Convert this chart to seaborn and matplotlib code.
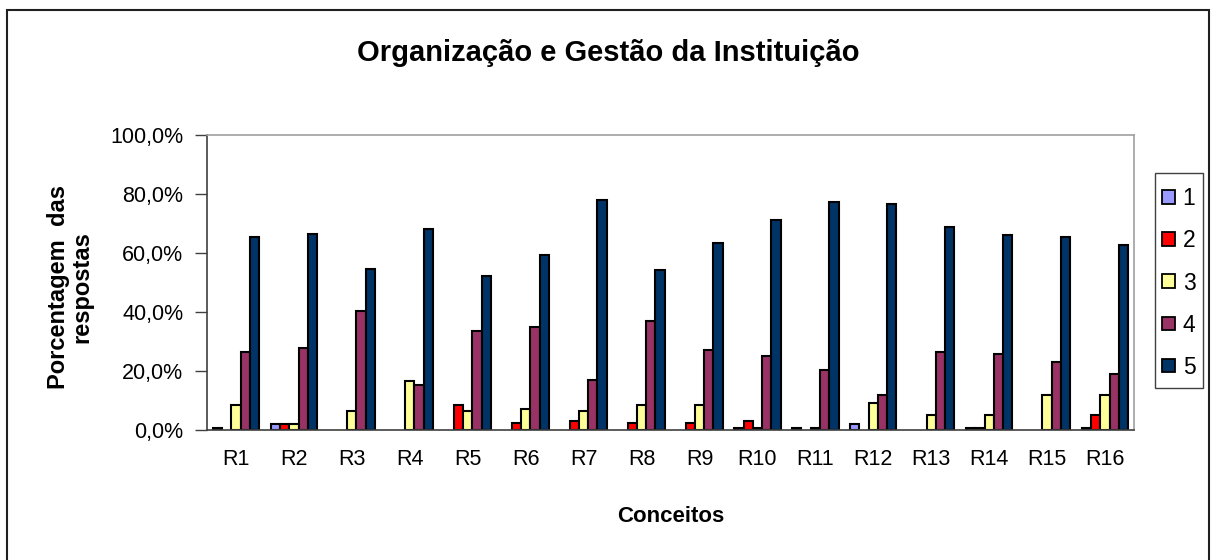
import matplotlib
matplotlib.use("Agg")
import matplotlib.pyplot as plt
import matplotlib.ticker as mticker
from matplotlib.patches import Rectangle, Patch
import numpy as np
import pandas as pd
import seaborn as sns

categories = ["R1", "R2", "R3", "R4", "R5", "R6", "R7", "R8",
              "R9", "R10", "R11", "R12", "R13", "R14", "R15", "R16"]
series_names = ["1", "2", "3", "4", "5"]
s1 = [0.7, 2.0, 0, 0, 0, 0, 0, 0, 0, 0.7, 0.7, 2.1, 0, 0.7, 0, 0.7]
s2 = [0, 2.0, 0, 0, 8.5, 2.3, 2.9, 2.3, 2.3, 2.9, 0, 0, 0, 0.7, 0, 5.0]
s3 = [8.5, 2.0, 6.4, 16.7, 6.4, 7.1, 6.4, 8.5, 8.4, 0.7, 0.7, 9.3, 5.0, 5.0, 12.0, 12.0]
s4 = [26.5, 27.9, 40.4, 15.4, 33.6, 35.0, 16.8, 36.9, 27.2, 25.2, 20.2, 12.0, 26.5, 25.9, 23.1, 19.0]
s5 = [65.5, 66.3, 54.5, 68.2, 52.2, 59.2, 78.0, 54.3, 63.5, 71.1, 77.3, 76.6, 68.9, 66.2, 65.4, 62.6]
colors = ["#9999FF", "#FF0000", "#FFFF99", "#993366", "#003366"]

rows = []
for name, vals in zip(series_names, [s1, s2, s3, s4, s5]):
    for c, v in zip(categories, vals):
        rows.append({"Conceito": c, "Serie": name, "Valor": v})
df = pd.DataFrame(rows)

sns.set_theme(style="white")
plt.rcParams["font.family"] = ["Liberation Sans", "DejaVu Sans"]
for k in ["text.color", "axes.labelcolor", "xtick.color", "ytick.color"]:
    plt.rcParams[k] = "black"

W, H = 1211, 560
fig = plt.figure(figsize=(W / 100, H / 100), dpi=100)
L, R, T, B = 207, 1134, 135, 430
ax = fig.add_axes([L / W, 1 - B / H, (R - L) / W, (B - T) / H])

sns.barplot(data=df, x="Conceito", y="Valor", hue="Serie", order=categories,
            hue_order=series_names, palette=colors, edgecolor="black",
            linewidth=1.5, saturation=1, width=0.8, ax=ax, errorbar=None)

for cont in ax.containers:
    for bar in cont:
        if bar.get_height() == 0:
            bar.set_visible(False)

if ax.get_legend() is not None:
    ax.get_legend().remove()

ax.set_ylim(0, 100)
ax.set_xlim(-0.5, len(categories) - 0.5)
ax.yaxis.set_major_locator(mticker.MultipleLocator(20))
ax.yaxis.set_major_formatter(mticker.FuncFormatter(lambda v, p: f"{v:.1f}%".replace(".", ",")))
ax.set_xticks(np.arange(-0.5, len(categories), 1.0), minor=True)
ax.tick_params(axis="x", which="major", length=0, pad=14, labelsize=15.5, labelcolor="black")
ax.tick_params(axis="x", which="minor", length=7, width=1, color="#404040", direction="out")
ax.tick_params(axis="y", which="major", length=9, width=1, color="#404040", direction="out",
               pad=8, labelsize=15.5, labelcolor="black")
ax.tick_params(left=True, bottom=True)
for s in ["left", "bottom"]:
    ax.spines[s].set_color("#404040")
    ax.spines[s].set_linewidth(1.2)
for s in ["top", "right"]:
    ax.spines[s].set_color("#A0A0A0")
    ax.spines[s].set_linewidth(1.2)
ax.grid(False)

ax.set_xlabel("")
ax.set_ylabel("")
fig.text((L + R) / 2 / W, 1 - 517 / H, "Conceitos", ha="center", va="center",
         fontsize=16, fontweight="bold")
fig.text(70 / W, 1 - 287 / H, "Porcentagem  das\nrespostas", ha="center", va="center",
         rotation=90, fontsize=17, fontweight="bold", linespacing=1.05)
fig.text(608 / W, 1 - 53 / H, "Organização e Gestão da Instituição", ha="center",
         va="center", fontsize=21, fontweight="bold")

handles = [Patch(facecolor=c, edgecolor="black", linewidth=1.3) for c in colors]
fig.legend(handles, series_names, loc="center left", bbox_to_anchor=(1162 / W, 1 - 283 / H),
           frameon=False, fontsize=16.5,
           handlelength=0.55, handleheight=0.55, handletextpad=0.35, labelspacing=0.83,
           borderpad=0, borderaxespad=0)

fig.patches.append(Rectangle((1155 / W, 1 - 388 / H), (1203 - 1155) / W, (388 - 173) / H,
                             transform=fig.transFigure, fill=False,
                             edgecolor="#404040", linewidth=1.0))

fig.patches.append(Rectangle((7 / W, -0.01), (1209 - 7) / W, 1 - 10 / H + 0.01,
                             transform=fig.transFigure, fill=False,
                             edgecolor="#202020", linewidth=1.5))

fig.savefig("out.png", dpi=100)
